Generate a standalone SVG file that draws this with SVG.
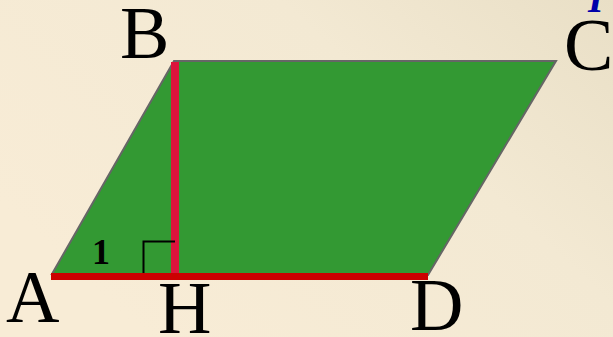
<svg xmlns="http://www.w3.org/2000/svg" width="613" height="337" viewBox="0 0 613 337">
<defs>
<linearGradient id="bg" x1="0" y1="0.6" x2="1" y2="0">
<stop offset="0" stop-color="#F8ECD6"/>
<stop offset="0.6" stop-color="#F3E9D3"/>
<stop offset="1" stop-color="#E9DFC6"/>
</linearGradient>
<style>
.lbl{font-family:"Liberation Serif","Times New Roman",serif;font-size:74px;fill:#000}
</style>
</defs>
<rect width="613" height="337" fill="url(#bg)"/>
<g id="parallelogram">
<polygon points="52,274 174,61 556,61 428,275" fill="#339933" stroke="#666" stroke-width="2"/>
</g>
<g id="connectors">
<line id="AD" x1="51" y1="276.5" x2="428" y2="276.5" stroke="#CC0000" stroke-width="7"/>
<line id="BH" x1="175" y1="62" x2="175" y2="273" stroke="#DC143C" stroke-width="8"/>
<polyline id="rightangle" points="143.5,273 143.5,241.5 175,241.5" fill="none" stroke="#000" stroke-width="2"/>
</g>
<g id="labels">
<text class="lbl" x="120" y="58">B</text>
<text class="lbl" x="564" y="70">C</text>
<text class="lbl" x="6" y="322">A</text>
<text class="lbl" x="158" y="333">H</text>
<text class="lbl" x="410" y="330">D</text>
<text x="92" y="264" style="font-family:'Liberation Serif',serif;font-size:36px;font-weight:bold;fill:#000">1</text>
<text x="588" y="12" style="font-family:'Liberation Serif',serif;font-size:40px;font-weight:bold;font-style:italic;fill:#0000AA">I</text>
</g>
</svg>
